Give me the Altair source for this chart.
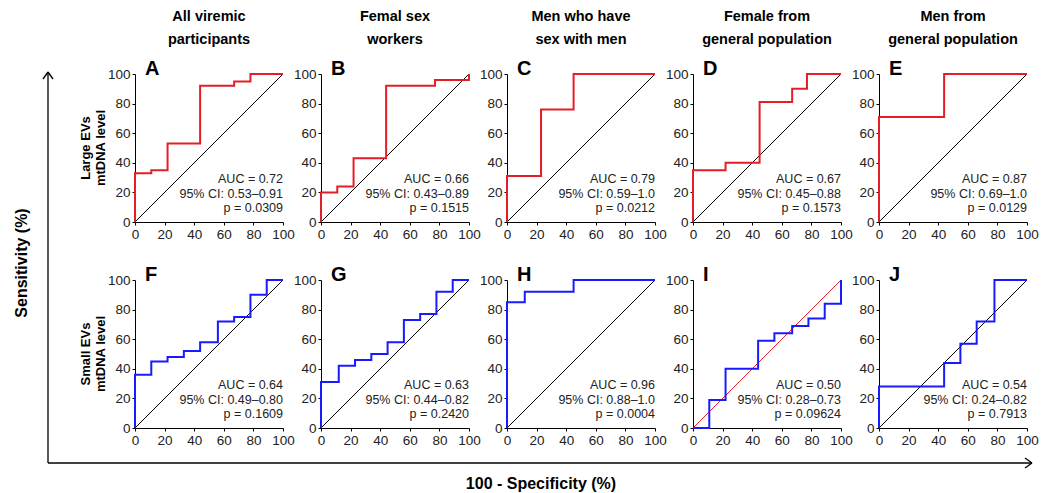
import altair as alt
import pandas as pd

# ---------------- data ----------------
TITLE_LINE1 = ["All viremic", "Femal sex", "Men who have", "Female from", "Men from"]
TITLE_LINE2 = ["participants", "workers", "sex with men", "general population", "general population"]
LETTERS = ["A", "B", "C", "D", "E", "F", "G", "H", "I", "J"]
ROW_LINE1 = ["Large EVs", "Small EVs"]
ROW_LINE2 = ["mtDNA level", "mtDNA level"]
TICKS = [0, 20, 40, 60, 80, 100]

# ROC corner points (100 - specificity, sensitivity), drawn as step-after
A_FPR = [0, 0, 11, 22, 44, 67, 78, 100]
A_TPR = [0, 33, 35, 53, 92, 95, 100, 100]
B_FPR = [0, 0, 11, 22, 44, 77, 100]
B_TPR = [0, 20, 24, 43, 92, 96, 100]
C_FPR = [0, 0, 23, 45, 100]
C_TPR = [0, 31, 76, 100, 100]
D_FPR = [0, 0, 22, 45, 67, 77, 100]
D_TPR = [0, 35, 40, 81, 90, 100, 100]
E_FPR = [0, 0, 44, 100]
E_TPR = [0, 71, 100, 100]
F_FPR = [0, 0, 11, 22, 33, 44, 56, 67, 78, 89, 100]
F_TPR = [0, 36, 45, 48, 52, 58, 72, 75, 90, 100, 100]
G_FPR = [0, 0, 12, 23, 34, 45, 56, 67, 78, 89, 100]
G_TPR = [0, 31, 42, 46, 50, 58, 73, 77, 92, 100, 100]
H_FPR = [0, 0, 12, 45, 100]
H_TPR = [0, 85, 92, 100, 100]
I_FPR = [0, 11, 22, 44, 55, 67, 78, 89, 100]
I_TPR = [0, 19, 40, 59, 64, 69, 74, 84, 100]
J_FPR = [0, 0, 44, 55, 66, 78, 100]
J_TPR = [0, 28, 44, 57, 72, 100, 100]

FPRS = [A_FPR, B_FPR, C_FPR, D_FPR, E_FPR, F_FPR, G_FPR, H_FPR, I_FPR, J_FPR]
TPRS = [A_TPR, B_TPR, C_TPR, D_TPR, E_TPR, F_TPR, G_TPR, H_TPR, I_TPR, J_TPR]

AUC = ["0.72", "0.66", "0.79", "0.67", "0.87", "0.64", "0.63", "0.96", "0.50", "0.54"]
CI = ["0.53\u20130.91", "0.43\u20130.89", "0.59\u20131.0", "0.45\u20130.88", "0.69\u20131.0",
      "0.49\u20130.80", "0.44\u20130.82", "0.88\u20131.0", "0.28\u20130.73", "0.24\u20130.82"]
PVAL = ["0.0309", "0.1515", "0.0212", "0.1573", "0.0129",
        "0.1609", "0.2420", "0.0004", "0.09624", "0.7913"]

# ---------------- style ----------------
RED = "#e41e26"
BLUE = "#1a1aff"
W, H = 148, 148
SANS = "Liberation Sans, Arial, sans-serif"
TXT = "#222222"


def label(text, x, y, **kw):
    return alt.Chart(pd.DataFrame({"t": [text]})).mark_text(**kw).encode(
        x=alt.value(x), y=alt.value(y), text="t:N")


def rule(x1, y1, x2, y2):
    return alt.Chart(pd.DataFrame({"r": [0]})).mark_rule(
        color="black", strokeWidth=1.3).encode(
        x=alt.value(x1), y=alt.value(y1), x2=alt.value(x2), y2=alt.value(y2))


xenc = alt.X("fpr:Q", scale=alt.Scale(domain=[0, 100], nice=False),
             axis=alt.Axis(values=TICKS, title=None))
yenc = alt.Y("tpr:Q", scale=alt.Scale(domain=[0, 100], nice=False),
             axis=alt.Axis(values=TICKS, title=None))


def panel(i):
    row, col = divmod(i, 5)
    roc_color = RED if row == 0 else BLUE
    diag_color = RED if LETTERS[i] == "I" else "black"

    diag = alt.Chart(pd.DataFrame({"fpr": [0, 100], "tpr": [0, 100]})).mark_line(
        color=diag_color, strokeWidth=1).encode(x=xenc, y=yenc)
    roc_df = pd.DataFrame({"fpr": FPRS[i], "tpr": TPRS[i], "k": list(range(len(FPRS[i])))})
    roc = alt.Chart(roc_df).mark_line(
        interpolate="step-after", color=roc_color, strokeWidth=2).encode(
        x=xenc, y=yenc, order="k:Q")

    tk = dict(font=SANS, fontSize=12.5, color=TXT, align="right", baseline="alphabetic")
    layers = [diag, roc,
              label(f"AUC = {AUC[i]}", W, 109, **tk),
              label(f"95% CI: {CI[i]}", W, 123.5, **tk),
              label(f"p = {PVAL[i]}", W, 138, **tk),
              label(LETTERS[i], 10, 1, font=SANS, fontSize=20, fontWeight="bold",
                    color="black", align="left", baseline="alphabetic")]

    if row == 0:
        tt = dict(font=SANS, fontSize=14.5, fontWeight="bold", color="black",
                  align="center", baseline="middle")
        layers += [label(TITLE_LINE1[col], W / 2, -57, **tt),
                   label(TITLE_LINE2[col], W / 2, -34, **tt)]
    if col == 0:
        rt = dict(font=SANS, fontSize=13, fontWeight="bold", color="black",
                  align="center", baseline="middle", angle=270)
        layers += [label(ROW_LINE1[row], -49, 74, **rt),
                   label(ROW_LINE2[row], -34, 74, **rt)]
    if i == 0:
        big = dict(font=SANS, fontSize=16, fontWeight="bold", color="black",
                   align="center", baseline="middle")
        layers += [
            rule(-87, -2, -87, 389),
            rule(-87, -2, -92, 5),
            rule(-87, -2, -82, 5),
            rule(-87, 389, 897, 389),
            rule(897, 389, 890, 384),
            rule(897, 389, 890, 394),
            label("Sensitivity (%)", -113, 189, angle=270, **big),
            label("100 - Specificity (%)", 406, 410, **big),
            alt.Chart(pd.DataFrame({"a": [0]})).mark_point(
                opacity=0, size=1, filled=True).encode(
                x=alt.value(-134.5), y=alt.value(-73.5)),
        ]
    return alt.layer(*layers).properties(width=W, height=H)


chart = alt.concat(*[panel(i) for i in range(10)], columns=5,
                   spacing={"row": 58, "column": 38}, bounds="flush").properties(
    padding=0, background="white"
).configure_view(stroke=None).configure_axis(
    grid=False, domainColor="black", domainWidth=1, tickColor="black",
    tickSize=3, labelPadding=2, labelFont=SANS, labelFontSize=13.5,
    labelColor=TXT, labelFlush=False, labelOverlap=False,
)

chart.save("out.html", embed_options={"renderer": "svg", "actions": False})
